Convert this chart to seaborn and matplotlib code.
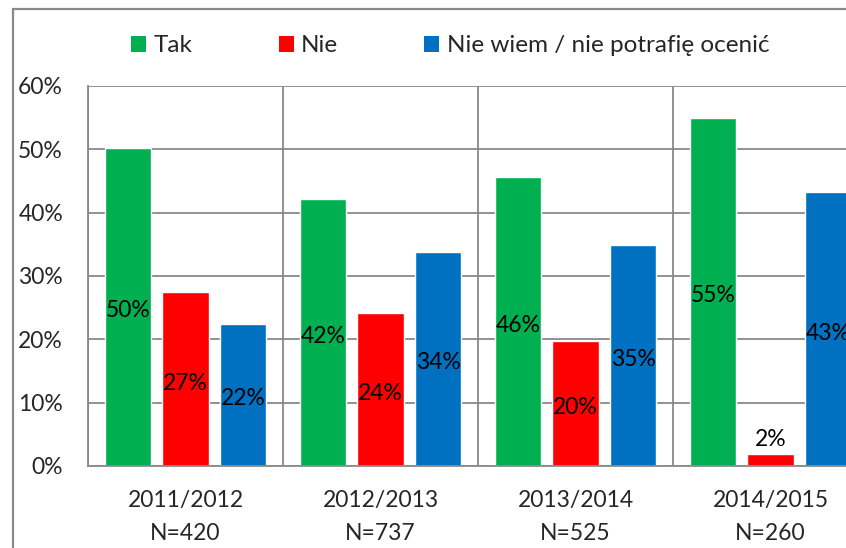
import matplotlib
matplotlib.use("Agg")
import matplotlib.pyplot as plt
from matplotlib.patches import Rectangle, Patch
from matplotlib.ticker import MultipleLocator, FixedLocator
import seaborn as sns
import pandas as pd

# Survey results per school year
years = ["2011/2012", "2012/2013", "2013/2014", "2014/2015"]
sample_sizes = [420, 737, 525, 260]
answers = ["Tak", "Nie", "Nie wiem / nie potrafię ocenić"]
tak = [50.2, 42.2, 45.6, 54.9]
nie = [27.4, 24.1, 19.7, 1.9]
nie_wiem = [22.4, 33.8, 34.9, 43.2]
colors = ["#00B050", "#FF0000", "#0070C0"]

rows = []
for ans, vals in zip(answers, [tak, nie, nie_wiem]):
    for yr, v in zip(years, vals):
        rows.append({"rok": yr, "odpowiedz": ans, "procent": v})
df = pd.DataFrame(rows)

sns.set_theme(style="white")
plt.rcParams["font.family"] = ["Lato", "DejaVu Sans"]
FS = 16.5
GRID = "#898989"

fig = plt.figure(figsize=(8.46, 5.48), dpi=100)
ax = fig.add_axes([88 / 846, 82 / 548, 780 / 846, 380 / 548])

sns.barplot(data=df, x="rok", y="procent", hue="odpowiedz", order=years,
            hue_order=answers, palette=colors, width=0.885, gap=0.2,
            saturation=1, errorbar=None, legend=False, ax=ax)

# value labels centred inside each bar (above the bar when too short)
for container in ax.containers:
    for bar in container:
        h = bar.get_height()
        xc = bar.get_x() + bar.get_width() / 2
        txt = f"{h:.0f}%"
        if h < 5:
            ax.text(xc, h + 0.6, txt, ha="center", va="bottom", fontsize=FS,
                    color="black", clip_on=False)
        else:
            ax.text(xc, h / 2 - 0.6, txt, ha="center", va="center", fontsize=FS,
                    color="black", clip_on=False)

ax.set_ylim(0, 60)
ax.set_xlim(-0.5, 3.5)
ax.yaxis.set_major_locator(MultipleLocator(10))
ax.yaxis.set_major_formatter(lambda v, p: f"{v:.0f}%")
ax.set_xticks(range(len(years)))
ax.set_xticklabels([f"{y}\nN={n}" for y, n in zip(years, sample_sizes)],
                   fontsize=FS, linespacing=1.75)
ax.tick_params(axis="y", labelsize=FS, length=0, pad=18)
ax.tick_params(axis="x", length=0, pad=17)
ax.set_xlabel("")
ax.set_ylabel("")

ax.xaxis.set_minor_locator(FixedLocator([-0.5, 0.5, 1.5, 2.5, 3.5]))
ax.grid(True, axis="y", which="major", color=GRID, lw=1.3)
ax.grid(True, axis="x", which="minor", color=GRID, lw=1.3)
ax.grid(False, axis="x", which="major")
ax.set_axisbelow(True)
for s in ["top", "right"]:
    ax.spines[s].set_visible(False)
for s in ["left", "bottom"]:
    ax.spines[s].set_color(GRID)
    ax.spines[s].set_linewidth(1.3)

LFS = 17.5
handles = [Patch(facecolor=c, edgecolor="none") for c in colors]
fig.legend(handles, answers, loc="center left", bbox_to_anchor=(131 / 846, 1 - 46 / 548),
           ncol=3, frameon=False, fontsize=LFS, handlelength=0.62, handleheight=0.62,
           handletextpad=0.3, columnspacing=3.55, borderpad=0, borderaxespad=0)

# chart frame
fig.add_artist(Rectangle((13 / 846, -0.1), 1.2, 1 - 9 / 548 + 0.1,
                         transform=fig.transFigure, fill=False, ec=GRID, lw=1.6))

fig.savefig("out.png", dpi=100)
